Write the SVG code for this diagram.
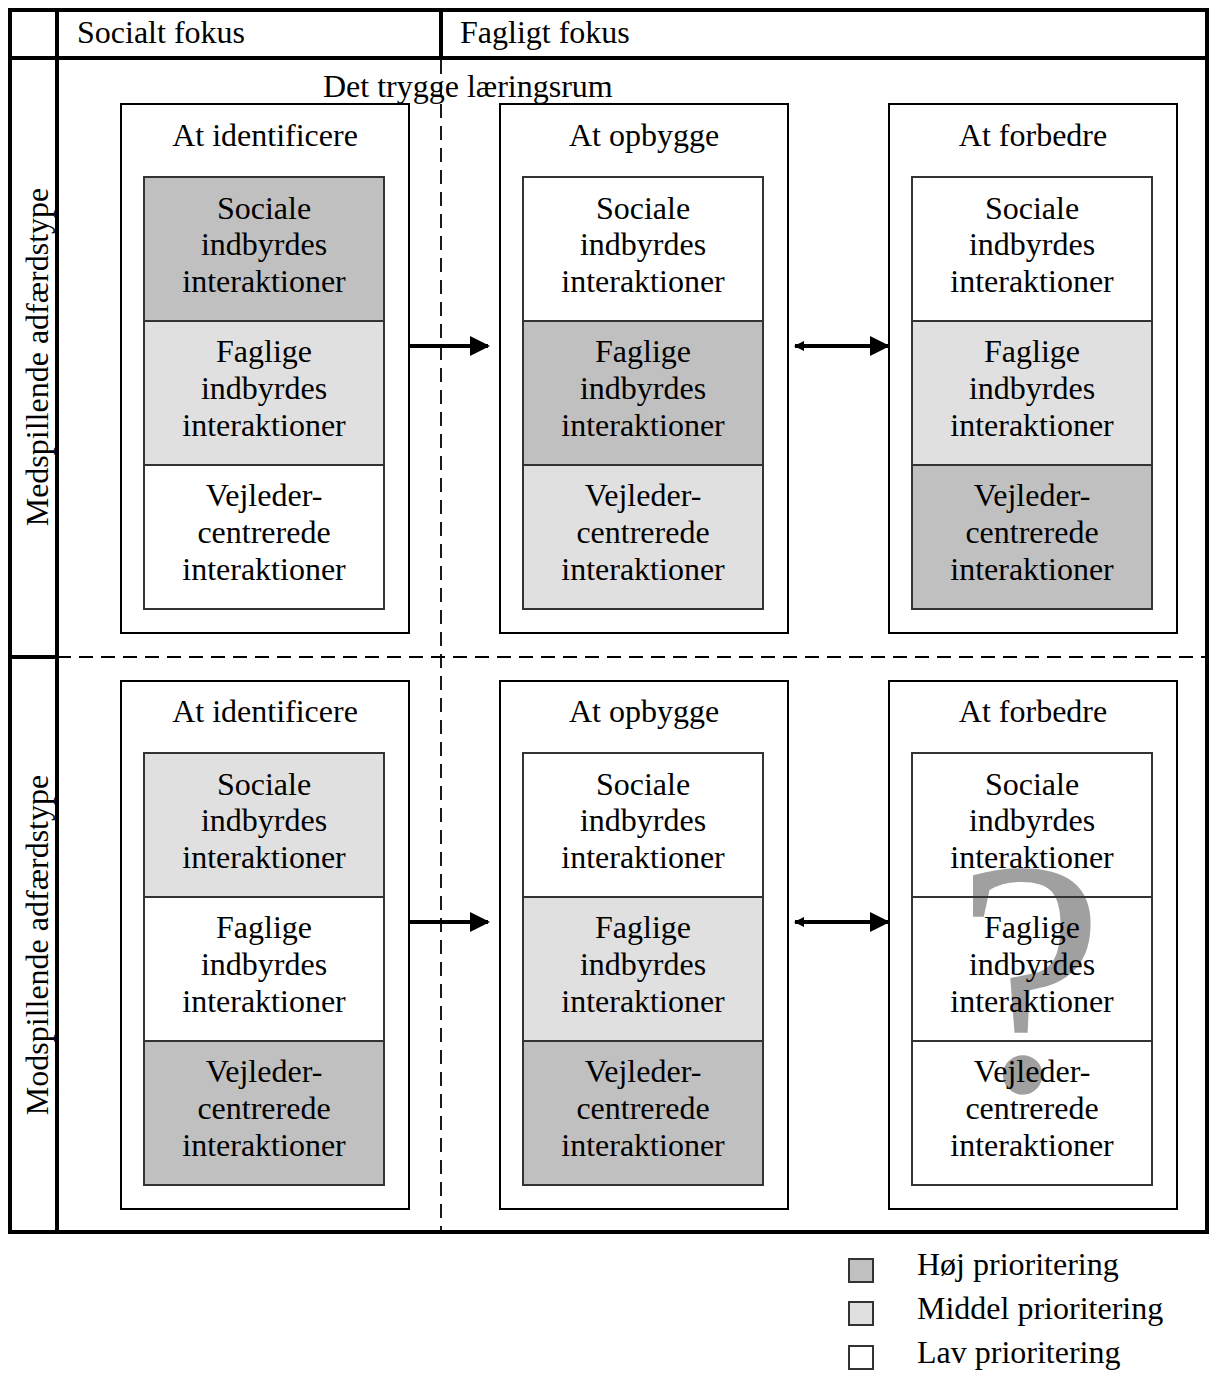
<svg xmlns="http://www.w3.org/2000/svg" width="1209" height="1378" viewBox="0 0 1209 1378">
  <style>
    text { font-family: "Liberation Serif", "Times New Roman", serif; fill: #000; }
    .hdr { font-size: 32px; }
    .ttl { font-size: 32px; text-anchor: middle; }
    .cell { font-size: 32px; text-anchor: middle; }
    .outer { fill: #fff; stroke: #000; stroke-width: 2; }
    .inner { stroke: #333; stroke-width: 2; }
    .hi { fill: #c0c0c0; }
    .mid { fill: #e0e0e0; }
    .lo { fill: #fff; }
    .frame { fill: none; stroke: #000; stroke-width: 4; }
    .dash { fill: none; stroke: #000; stroke-width: 1.8; stroke-dasharray: 14 8; }
    .arrow { stroke: #000; stroke-width: 4; fill: none; }
  </style>
  <defs>
    <marker id="head" viewBox="0 0 10 10" refX="9" refY="5" markerWidth="5" markerHeight="5.5" orient="auto" markerUnits="strokeWidth">
      <path d="M0,0 L10,5 L0,10 Z" fill="#000"/>
    </marker>
    <marker id="tail" viewBox="0 0 10 10" refX="1" refY="5" markerWidth="2.5" markerHeight="3" orient="auto" markerUnits="strokeWidth">
      <path d="M10,0 L0,5 L10,10 Z" fill="#000"/>
    </marker>
  </defs>

  <rect width="1209" height="1378" fill="#fff"/>

  <!-- frame grid -->
  <g id="frame">
    <rect class="frame" x="10" y="10" width="1197" height="1222"/>
    <line class="frame" x1="10" y1="58" x2="1207" y2="58"/>
    <line class="frame" x1="57" y1="10" x2="57" y2="1232"/>
    <line class="frame" x1="441" y1="10" x2="441" y2="58"/>
    <line class="frame" x1="10" y1="657" x2="57" y2="657"/>
    <line class="dash" x1="57" y1="657" x2="1207" y2="657"/>
    <line class="dash" x1="441" y1="60" x2="441" y2="1232"/>
    <text class="hdr" x="77" y="43">Socialt fokus</text>
    <text class="hdr" x="460" y="43">Fagligt fokus</text>
    <text class="hdr" x="323" y="97">Det trygge læringsrum</text>
    <text class="hdr" text-anchor="middle" transform="translate(48,357) rotate(-90)">Medspillende adfærdstype</text>
    <text class="hdr" text-anchor="middle" transform="translate(48,945) rotate(-90)">Modspillende adfærdstype</text>
  </g>

  <!-- row 1: Medspillende -->
  <g id="r1-identificere">
    <rect class="outer" x="121" y="104" width="288" height="529"/>
    <text class="ttl" x="265" y="146">At identificere</text>
    <rect class="inner hi" x="144" y="177" width="240" height="144"/>
    <rect class="inner mid" x="144" y="321" width="240" height="144"/>
    <rect class="inner lo" x="144" y="465" width="240" height="144"/>
    <text class="cell"><tspan x="264" y="219">Sociale</tspan><tspan x="264" y="255">indbyrdes</tspan><tspan x="264" y="292">interaktioner</tspan></text>
    <text class="cell"><tspan x="264" y="362">Faglige</tspan><tspan x="264" y="399">indbyrdes</tspan><tspan x="264" y="436">interaktioner</tspan></text>
    <text class="cell"><tspan x="264" y="506">Vejleder-</tspan><tspan x="264" y="543">centrerede</tspan><tspan x="264" y="580">interaktioner</tspan></text>
  </g>
  <g id="r1-opbygge">
    <rect class="outer" x="500" y="104" width="288" height="529"/>
    <text class="ttl" x="644" y="146">At opbygge</text>
    <rect class="inner lo" x="523" y="177" width="240" height="144"/>
    <rect class="inner hi" x="523" y="321" width="240" height="144"/>
    <rect class="inner mid" x="523" y="465" width="240" height="144"/>
    <text class="cell"><tspan x="643" y="219">Sociale</tspan><tspan x="643" y="255">indbyrdes</tspan><tspan x="643" y="292">interaktioner</tspan></text>
    <text class="cell"><tspan x="643" y="362">Faglige</tspan><tspan x="643" y="399">indbyrdes</tspan><tspan x="643" y="436">interaktioner</tspan></text>
    <text class="cell"><tspan x="643" y="506">Vejleder-</tspan><tspan x="643" y="543">centrerede</tspan><tspan x="643" y="580">interaktioner</tspan></text>
  </g>
  <g id="r1-forbedre">
    <rect class="outer" x="889" y="104" width="288" height="529"/>
    <text class="ttl" x="1033" y="146">At forbedre</text>
    <rect class="inner lo" x="912" y="177" width="240" height="144"/>
    <rect class="inner mid" x="912" y="321" width="240" height="144"/>
    <rect class="inner hi" x="912" y="465" width="240" height="144"/>
    <text class="cell"><tspan x="1032" y="219">Sociale</tspan><tspan x="1032" y="255">indbyrdes</tspan><tspan x="1032" y="292">interaktioner</tspan></text>
    <text class="cell"><tspan x="1032" y="362">Faglige</tspan><tspan x="1032" y="399">indbyrdes</tspan><tspan x="1032" y="436">interaktioner</tspan></text>
    <text class="cell"><tspan x="1032" y="506">Vejleder-</tspan><tspan x="1032" y="543">centrerede</tspan><tspan x="1032" y="580">interaktioner</tspan></text>
  </g>

  <!-- row 2: Modspillende -->
  <g id="r2-identificere">
    <rect class="outer" x="121" y="681" width="288" height="528"/>
    <text class="ttl" x="265" y="722">At identificere</text>
    <rect class="inner mid" x="144" y="753" width="240" height="144"/>
    <rect class="inner lo" x="144" y="897" width="240" height="144"/>
    <rect class="inner hi" x="144" y="1041" width="240" height="144"/>
    <text class="cell"><tspan x="264" y="795">Sociale</tspan><tspan x="264" y="831">indbyrdes</tspan><tspan x="264" y="868">interaktioner</tspan></text>
    <text class="cell"><tspan x="264" y="938">Faglige</tspan><tspan x="264" y="975">indbyrdes</tspan><tspan x="264" y="1012">interaktioner</tspan></text>
    <text class="cell"><tspan x="264" y="1082">Vejleder-</tspan><tspan x="264" y="1119">centrerede</tspan><tspan x="264" y="1156">interaktioner</tspan></text>
  </g>
  <g id="r2-opbygge">
    <rect class="outer" x="500" y="681" width="288" height="528"/>
    <text class="ttl" x="644" y="722">At opbygge</text>
    <rect class="inner lo" x="523" y="753" width="240" height="144"/>
    <rect class="inner mid" x="523" y="897" width="240" height="144"/>
    <rect class="inner hi" x="523" y="1041" width="240" height="144"/>
    <text class="cell"><tspan x="643" y="795">Sociale</tspan><tspan x="643" y="831">indbyrdes</tspan><tspan x="643" y="868">interaktioner</tspan></text>
    <text class="cell"><tspan x="643" y="938">Faglige</tspan><tspan x="643" y="975">indbyrdes</tspan><tspan x="643" y="1012">interaktioner</tspan></text>
    <text class="cell"><tspan x="643" y="1082">Vejleder-</tspan><tspan x="643" y="1119">centrerede</tspan><tspan x="643" y="1156">interaktioner</tspan></text>
  </g>
  <g id="r2-forbedre">
    <rect class="outer" x="889" y="681" width="288" height="528"/>
    <text class="ttl" x="1033" y="722">At forbedre</text>
    <rect class="lo" x="912" y="753" width="240" height="432"/>
    <!-- unknown priority mark behind the cell grid -->
    <text x="1030" y="1090" text-anchor="middle" font-size="335" style="fill:#a0a0a0">?</text>
    <rect class="inner" fill="none" x="912" y="753" width="240" height="144"/>
    <rect class="inner" fill="none" x="912" y="897" width="240" height="144"/>
    <rect class="inner" fill="none" x="912" y="1041" width="240" height="144"/>
    <text class="cell"><tspan x="1032" y="795">Sociale</tspan><tspan x="1032" y="831">indbyrdes</tspan><tspan x="1032" y="868">interaktioner</tspan></text>
    <text class="cell"><tspan x="1032" y="938">Faglige</tspan><tspan x="1032" y="975">indbyrdes</tspan><tspan x="1032" y="1012">interaktioner</tspan></text>
    <text class="cell"><tspan x="1032" y="1082">Vejleder-</tspan><tspan x="1032" y="1119">centrerede</tspan><tspan x="1032" y="1156">interaktioner</tspan></text>
  </g>

  <!-- connectors -->
  <g id="connectors">
    <line class="arrow" x1="409" y1="346" x2="488" y2="346" marker-end="url(#head)"/>
    <line class="arrow" x1="795" y1="346" x2="888" y2="346" marker-start="url(#tail)" marker-end="url(#head)"/>
    <line class="arrow" x1="409" y1="922" x2="488" y2="922" marker-end="url(#head)"/>
    <line class="arrow" x1="795" y1="922" x2="888" y2="922" marker-start="url(#tail)" marker-end="url(#head)"/>
  </g>

  <!-- legend -->
  <g id="legend">
    <rect class="inner hi" x="849" y="1259" width="24" height="23"/>
    <rect class="inner mid" x="849" y="1302" width="24" height="23"/>
    <rect class="inner lo" x="849" y="1346" width="24" height="23"/>
    <text class="hdr" x="917" y="1275">Høj prioritering</text>
    <text class="hdr" x="917" y="1319">Middel prioritering</text>
    <text class="hdr" x="917" y="1363">Lav prioritering</text>
  </g>
</svg>
